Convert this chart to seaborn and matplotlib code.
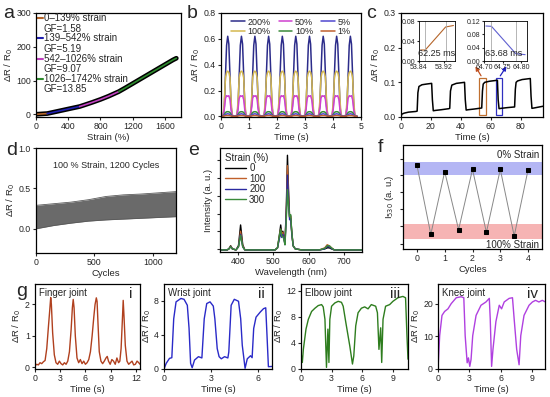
import matplotlib
matplotlib.use("Agg")
import matplotlib.pyplot as plt
import seaborn as sns
from matplotlib.patches import Rectangle

# ---------------- data ----------------
# (a) resistance vs strain
strain_a = [0, 50, 100, 139, 200, 300, 400, 542, 600, 700, 800, 900, 1026,
            1100, 1200, 1300, 1400, 1500, 1600, 1700, 1742]
resp_a = [0, 0.8, 1.6, 2.2, 5.3, 10.5, 15.7, 23, 27.5, 35.5, 44, 53.5, 67,
          77, 91, 105, 119, 133, 147, 161, 166]
seg_bounds = [(0, 139), (139, 542), (542, 1026), (1026, 1742)]
seg_names = ["0\u2013139% strain", "139\u2013542% strain",
             "542\u20131026% strain", "1026\u20131742% strain"]
seg_gf = ["GF=1.58", "GF=5.19", "GF=9.07", "GF=13.85"]

# (b) cyclic response at different strains (one cycle per series + peak times)
peak_times_b = [0.24, 0.73, 1.21, 1.70, 2.19, 2.67, 3.16, 3.65, 4.13, 4.62]
cycle_dt = [-0.24, -0.16, -0.12, -0.08, -0.04, 0.0, 0.04, 0.08, 0.12, 0.16, 0.24]
strain_labels_b = ["200%", "100%", "50%", "10%", "5%", "1%"]
cycle_200 = [0.0, 0.005, 0.08, 0.32, 0.55, 0.62, 0.56, 0.32, 0.08, 0.005, 0.0]
cycle_100 = [0.0, 0.01, 0.12, 0.30, 0.34, 0.35, 0.34, 0.30, 0.12, 0.01, 0.0]
cycle_50 = [0.0, 0.01, 0.06, 0.14, 0.16, 0.155, 0.16, 0.13, 0.05, 0.01, 0.0]
cycle_10 = [0.0, 0.003, 0.015, 0.03, 0.035, 0.036, 0.035, 0.03, 0.015, 0.003, 0.0]
cycle_5 = [0.0, 0.002, 0.008, 0.015, 0.018, 0.02, 0.018, 0.015, 0.008, 0.002, 0.0]
cycle_1 = [0.0, 0.001, 0.003, 0.005, 0.006, 0.006, 0.006, 0.005, 0.003, 0.001, 0.0]

# (c) step response
t_c = [0, 0.5, 2, 5, 10, 10.8, 11.3, 12, 14, 17, 20.5, 21.0, 21.6, 23, 27,
       32, 32.6, 33.1, 34, 37, 42.5, 43.0, 43.6, 45, 49, 54, 54.5, 55, 56, 59,
       64.5, 65.0, 65.6, 67, 71, 76, 76.5, 77, 78, 81, 86.5, 87.0, 87.6, 89, 95]
r_c = [0, 0.008, 0.011, 0.014, 0.016, 0.017, 0.07, 0.088, 0.093, 0.095,
       0.097, 0.05, 0.018, 0.019, 0.021, 0.024, 0.025, 0.075, 0.092, 0.097,
       0.1, 0.05, 0.02, 0.021, 0.023, 0.026, 0.075, 0.095, 0.1, 0.103,
       0.106, 0.05, 0.024, 0.025, 0.027, 0.029, 0.08, 0.1, 0.104, 0.108,
       0.111, 0.06, 0.025, 0.026, 0.031]
t_rise = [53.845, 53.86, 53.925, 53.95]
r_rise = [0.022, 0.022, 0.068, 0.071]
t_fall = [64.705, 64.72, 64.785, 64.81]
r_fall = [0.105, 0.104, 0.022, 0.019]

# (d) 1200-cycle envelope
cyc_d = [0, 150, 300, 450, 600, 750, 900, 1050, 1200]
low_d = [0.0, 0.04, 0.07, 0.095, 0.11, 0.12, 0.13, 0.14, 0.15]
high_d = [0.29, 0.31, 0.33, 0.36, 0.40, 0.42, 0.43, 0.445, 0.46]

# (e) emission spectra
wl = [350, 370, 375, 380, 385, 395, 402, 408, 414, 420, 480, 505, 512, 518,
      521, 524, 527, 530, 533, 537, 540, 543, 546, 549, 552, 556, 562, 580,
      630, 645, 652, 658, 664, 672, 690, 750]
spec_0 = [0.02, 0.02, 0.03, 0.06, 0.03, 0.02, 0.06, 0.26, 0.07, 0.02,
          0.02, 0.02, 0.04, 0.18, 0.26, 0.17, 0.2, 0.15, 0.08, 0.45,
          0.93, 0.6, 0.34, 0.35, 0.2, 0.06, 0.03, 0.02, 0.02, 0.03,
          0.04, 0.04, 0.03, 0.02, 0.02, 0.02]
spec_100 = [0.02, 0.02, 0.03, 0.055, 0.03, 0.02, 0.05, 0.2, 0.06, 0.02,
            0.02, 0.02, 0.04, 0.16, 0.22, 0.15, 0.19, 0.14, 0.08, 0.42,
            0.83, 0.55, 0.33, 0.34, 0.19, 0.06, 0.03, 0.02, 0.02, 0.04,
            0.07, 0.06, 0.04, 0.02, 0.02, 0.02]
spec_200 = [0.02, 0.02, 0.03, 0.05, 0.03, 0.02, 0.05, 0.17, 0.05, 0.02,
            0.02, 0.02, 0.04, 0.14, 0.18, 0.14, 0.17, 0.13, 0.07, 0.38,
            0.74, 0.5, 0.31, 0.32, 0.18, 0.06, 0.03, 0.02, 0.02, 0.03,
            0.055, 0.05, 0.035, 0.02, 0.02, 0.02]
spec_300 = [0.02, 0.02, 0.03, 0.05, 0.03, 0.02, 0.05, 0.16, 0.05, 0.02,
            0.02, 0.02, 0.04, 0.17, 0.22, 0.15, 0.15, 0.12, 0.07, 0.33,
            0.6, 0.45, 0.34, 0.36, 0.2, 0.06, 0.03, 0.02, 0.02, 0.035,
            0.06, 0.06, 0.04, 0.02, 0.02, 0.02]
spec_labels = ["0", "100", "200", "300"]

# (f) I530 over cycles
cyc_f = [0, 0.5, 1, 1.5, 2, 2.5, 3, 3.5, 4]
int_f = [0.808, 0.141, 0.744, 0.186, 0.766, 0.160, 0.766, 0.125, 0.763]

# (g) joint motion
fin_t = [0.0, 0.2, 0.4, 0.6, 0.8, 1.0, 1.2, 1.4, 1.6, 1.75, 1.87, 1.95, 2.1,
         2.3, 2.5, 2.7, 2.9, 3.1, 3.3, 3.5, 3.7, 3.9, 4.1, 4.3, 4.45, 4.55,
         4.65, 4.8, 5.0, 5.2, 5.4, 5.6, 5.8, 6.0, 6.2, 6.4, 6.6, 6.8, 7.0,
         7.15, 7.3, 7.39, 7.5, 7.65, 7.85, 8.05, 8.25, 8.45, 8.6, 8.75, 8.95,
         9.15, 9.35, 9.55, 9.75, 9.95, 10.1, 10.25, 10.4, 10.5, 10.6, 10.75,
         10.95, 11.15, 11.35, 11.55, 11.75, 11.95, 12.15, 12.35, 12.5]
fin_r = [0.05, 0.1, 0.08, 0.15, 0.12, 0.18, 0.22, 0.6, 1.3, 1.8, 2.22, 2.0,
         1.1, 0.4, 0.15, 0.1, 0.2, 0.12, 0.08, 0.15, 0.1, 0.2, 0.5, 1.2, 1.9,
         2.16, 1.9, 1.0, 0.3, 0.15, 0.25, 0.12, 0.2, 0.1, 0.15, 0.25, 0.5,
         1.0, 1.6, 2.0, 2.21, 2.1, 1.4, 0.5, 0.2, 0.12, 0.2, 0.3, 0.35, 0.2,
         0.1, 0.25, 0.2, 0.1, 0.3, 0.15, 0.2, 0.6, 1.5, 2.13, 1.6, 0.7, 0.2,
         0.1, 0.15, 0.2, 0.08, 0.1, 0.2, 0.15, 0.1]
wr_t = [0, 0.14, 0.35, 0.5, 0.62, 0.77, 1.08, 1.28, 1.49, 1.6, 1.7, 1.8, 1.95,
        2.2, 2.42, 2.57, 2.73, 2.94, 3.15, 3.25, 3.4, 3.52, 3.66, 3.87, 4.08,
        4.14, 4.29, 4.49, 4.76, 4.9, 5.0, 5.18, 5.32, 5.53, 5.63, 5.73, 5.88,
        6.15, 6.36, 6.5, 6.58, 6.67, 6.9]
wr_r = [0, 0.66, 1.25, 1.33, 5.9, 7.9, 8.3, 8.2, 7.5, 4.8, 0.66, 0.15, 1.05,
        1.45, 1.3, 5.9, 7.7, 7.9, 7.4, 5.9, 2.4, 1.45, 1.2, 1.45, 1.3, 2.0,
        7.5, 8.2, 7.97, 5.9, 2.8, 0.08, 1.2, 1.56, 1.33, 4.77, 6.1, 6.7, 7.1,
        7.2, 4.0, 0.27, 0.3]
el_t = [0, 0.13, 0.23, 0.49, 0.72, 1.04, 1.37, 1.69, 2.02, 2.18, 2.35, 2.5,
        2.64, 2.74, 2.83, 3.0, 3.32, 3.65, 3.97, 4.14, 4.4, 4.79, 5.05, 5.18,
        5.37, 5.6, 5.93, 6.25, 6.58, 6.9, 7.33, 7.5, 7.65, 7.82, 7.92, 8.05,
        8.3, 8.7, 9.02, 9.51, 10.0, 10.26, 10.4, 10.5]
el_r = [2.5, 1.0, 3.0, 6.1, 7.6, 8.8, 9.3, 9.7, 9.85, 9.5, 7.6, 0.25, 6.1,
        1.0, 7.6, 9.6, 10.1, 10.35, 10.2, 9.6, 7.1, 3.5, 0.76, 2.0, 6.6, 8.6,
        9.3, 9.5, 9.2, 9.85, 9.6, 8.6, 3.0, 6.3, 1.0, 7.6, 9.6, 9.85, 10.35,
        10.9, 11.1, 10.9, 5.0, 1.5]
kn_t = [0, 0.16, 0.38, 0.63, 0.95, 1.26, 1.74, 2.2, 2.46, 2.59, 2.78, 2.9,
        3.03, 3.15, 3.31, 3.63, 4.1, 4.57, 4.89, 4.98, 5.11, 5.24, 5.52, 5.84,
        6.06, 6.31, 6.78, 7.1, 7.26, 7.5, 7.73, 7.89, 8.2, 8.68, 9.0, 9.3,
        9.62, 9.94, 10.25]
kn_r = [0, 10.2, 16.4, 17.6, 18.4, 20.0, 21.8, 22.1, 21.8, 10.2, 1.9, 3.4,
        0.8, 2.9, 10.2, 16.4, 19.5, 20.5, 21.6, 15.3, 0.8, 6.0, 14.5, 19.5,
        18.4, 20.5, 21.6, 21.8, 15.3, 6.0, 1.3, 10.2, 16.4, 19.5, 20.5, 21.0,
        20.5, 21.0, 20.5]

# ---------------- style ----------------
sns.set_theme(style="ticks")
plt.rcParams["font.family"] = ["Liberation Sans", "DejaVu Sans"]
plt.rcParams.update({
    "axes.linewidth": 0.9, "axes.edgecolor": "black",
    "xtick.major.size": 2.5, "ytick.major.size": 2.5,
    "xtick.major.width": 0.8, "ytick.major.width": 0.8,
    "xtick.labelsize": 6.3, "ytick.labelsize": 6.3, "axes.labelsize": 6.8,
    "xtick.major.pad": 1.2, "ytick.major.pad": 1.2, "axes.labelpad": 1.0,
})

W, H = 550, 397
fig = plt.figure(figsize=(W / 100, H / 100), dpi=100)


def box(x0, y0, x1, y1):
    return fig.add_axes([x0 / W, 1 - y1 / H, (x1 - x0) / W, (y1 - y0) / H])


def letter(s, x, y):
    fig.text(x / W, 1 - y / H, s, fontsize=14, ha="center", va="center")


dr = "\u0394R / R$_0$"

# ---- (a)
ax = box(36, 13, 181, 117)
sns.lineplot(x=strain_a, y=resp_a, ax=ax, color="black", lw=3.4, sort=False, estimator=None)
a_cols = ["#b5652a", "#2020b0", "#c040c0", "#2e8b2e"]
for (lo, hi), col in zip(seg_bounds, a_cols):
    xs = [s for s in strain_a if lo <= s <= hi]
    ys = [r for s, r in zip(strain_a, resp_a) if lo <= s <= hi]
    sns.lineplot(x=xs, y=ys, ax=ax, color=col, lw=1.2, sort=False, estimator=None)
for i, col in enumerate(a_cols):
    y0 = 0.95 - i * 0.195
    ax.plot([0.01, 0.05], [y0, y0], color=col, lw=1.5, transform=ax.transAxes)
    ax.text(0.055, y0, seg_names[i], fontsize=7, va="center", transform=ax.transAxes)
    ax.text(0.055, y0 - 0.1, seg_gf[i], fontsize=7, va="center", transform=ax.transAxes)
ax.set_xlim(0, 1800)
ax.set_ylim(-8, 300)
ax.set_xticks([0, 400, 800, 1200, 1600])
ax.set_yticks([0, 100, 200, 300])
ax.set_xlabel("Strain (%)")
ax.set_ylabel(dr)
letter("a", 9, 14)

# ---- (b)
ax = box(221, 13, 361, 117)
b_cycles = [cycle_200, cycle_100, cycle_50, cycle_10, cycle_5, cycle_1]
b_cols = ["#2c2c8a", "#d4b850", "#d040d0", "#3a8a3a", "#5048d0", "#c06030"]
for k in range(6):
    ts = [p + d for p in peak_times_b for d in cycle_dt]
    vs = [v for p in peak_times_b for v in b_cycles[k]]
    sns.lineplot(x=ts, y=vs, ax=ax, color=b_cols[k], lw=1.1, sort=False,
                 estimator=None, label=strain_labels_b[k])
ax.legend(ncol=3, loc="upper left", frameon=False, fontsize=6.5, handlelength=1.5,
          labelspacing=0.05, columnspacing=0.9, handletextpad=0.3,
          borderaxespad=0.1, bbox_to_anchor=(0.04, 1.0))
ax.set_xlim(0, 5)
ax.set_ylim(-0.005, 0.8)
ax.set_yticks([0.0, 0.2, 0.4, 0.6, 0.8])
ax.set_yticklabels(["0.0", "0.2", "0.4", "0.6", "0.8"])
ax.set_xlabel("Time (s)")
ax.set_ylabel(dr)
letter("b", 192, 13)

# ---- (c)
ax = box(401, 13, 543, 117)
sns.lineplot(x=t_c, y=r_c, ax=ax, color="black", lw=1.1, sort=False, estimator=None)
ax.add_patch(Rectangle((52.3, 0.005), 4.5, 0.107, fill=False, ec="#c07030", lw=0.9))
ax.add_patch(Rectangle((63.6, 0.005), 3.7, 0.107, fill=False, ec="#3030c0", lw=0.9))
ax.set_xlim(0, 95)
ax.set_ylim(0, 0.3)
ax.set_xticks([0, 20, 40, 60, 80])
ax.set_yticks([0.0, 0.1, 0.2, 0.3])
ax.set_yticklabels(["0.0", "0.1", "0.2", "0.3"])
ax.set_xlabel("Time (s)")
ax.set_ylabel(dr)
ax.annotate("", xy=(474 / W, 1 - 64 / H), xycoords="figure fraction",
            xytext=(54.5, 0.112), textcoords="data",
            arrowprops=dict(arrowstyle="-|>", color="#c05020", lw=0.9, mutation_scale=6))
ax.annotate("", xy=(508 / W, 1 - 64 / H), xycoords="figure fraction",
            xytext=(65.4, 0.112), textcoords="data",
            arrowprops=dict(arrowstyle="-|>", color="#2020c0", lw=0.9, mutation_scale=6))
letter("c", 371, 14)

ins = box(419, 21, 455, 61)
sns.lineplot(x=t_rise, y=r_rise, ax=ins, color="#b5652a", lw=0.8, sort=False, estimator=None)
for xv in [53.86, 53.925]:
    ins.axvline(xv, color="#aaaaaa", lw=0.6)
ins.set_xlim(53.84, 53.955)
ins.set_ylim(0, 0.08)
ins.set_xticks([53.84, 53.92])
ins.set_xticklabels(["53.84", "53.92"])
ins.set_yticks([0.0, 0.04, 0.08])
ins.set_yticklabels(["0.00", "0.04", "0.08"])
ins.tick_params(labelsize=5, length=1.5, pad=1)
ins.text(0.5, 0.08, "62.25 ms", fontsize=6.5, ha="center", va="bottom", transform=ins.transAxes)
for s in ins.spines.values():
    s.set_linewidth(0.6)

ins = box(484, 21, 527, 61)
sns.lineplot(x=t_fall, y=r_fall, ax=ins, color="#6060d0", lw=0.8, sort=False, estimator=None)
for xv in [64.72, 64.785]:
    ins.axvline(xv, color="#aaaaaa", lw=0.6)
ins.set_xlim(64.70, 64.815)
ins.set_ylim(0, 0.12)
ins.set_xticks([64.70, 64.75, 64.80])
ins.set_xticklabels(["64.70", "64.75", "64.80"])
ins.set_yticks([0.0, 0.04, 0.08, 0.12])
ins.set_yticklabels(["0.00", "0.04", "0.08", "0.12"])
ins.tick_params(labelsize=5, length=1.5, pad=1)
ins.text(0.45, 0.08, "63.68 ms", fontsize=6.5, ha="center", va="bottom", transform=ins.transAxes)
for s in ins.spines.values():
    s.set_linewidth(0.6)

# ---- (d)
ax = box(36, 148, 176, 253)
ax.fill_between(cyc_d, low_d, high_d, color="#6a6a6a", lw=0)
sns.lineplot(x=cyc_d, y=low_d, ax=ax, color="#5a5a5a", lw=0.6, sort=False, estimator=None)
sns.lineplot(x=cyc_d, y=high_d, ax=ax, color="#5a5a5a", lw=0.6, sort=False, estimator=None)
ax.text(0.5, 0.83, "100 % Strain, 1200 Cycles", fontsize=6.5, ha="center",
        va="center", transform=ax.transAxes)
ax.set_xlim(0, 1200)
ax.set_ylim(-0.3, 1.0)
ax.set_xticks([0, 500, 1000])
ax.set_yticks([0.0, 0.5, 1.0])
ax.set_yticklabels(["0.0", "0.5", "1.0"])
ax.set_xlabel("Cycles")
ax.set_ylabel(dr)
letter("d", 12, 150)

# ---- (e)
ax = box(220, 148, 362, 252)
e_specs = [spec_0, spec_100, spec_200, spec_300]
e_cols = ["black", "#c0602a", "#2a2aa0", "#3a8a3a"]
for sp, col, lab in zip(e_specs, e_cols, spec_labels):
    sns.lineplot(x=wl, y=sp, ax=ax, color=col, lw=1.0, sort=False,
                 estimator=None, label=lab)
leg = ax.legend(loc="upper left", frameon=False, fontsize=7, title="Strain (%)",
                title_fontsize=7, handlelength=2.2, labelspacing=0.05,
                handletextpad=0.3, borderaxespad=0.1, bbox_to_anchor=(0.0, 1.0))
leg._legend_box.align = "left"
ax.set_xlim(350, 750)
ax.set_ylim(0, 1.0)
ax.set_xticks([400, 500, 600, 700])
ax.set_yticks([0.03, 0.2, 0.37, 0.54, 0.71, 0.88])
ax.set_yticklabels([])
ax.set_xlabel("Wavelength (nm)")
ax.set_ylabel("Intensity (a. u.)")
letter("e", 194, 150)

# ---- (f)
ax = box(403, 145, 542, 249)
ax.axhspan(0.712, 0.84, color="#b4b6f4", lw=0)
ax.axhspan(0.096, 0.237, color="#f6b4b4", lw=0)
sns.lineplot(x=cyc_f, y=int_f, ax=ax, color="#888888", lw=0.7, sort=False,
             estimator=None, marker="s", markersize=2.2, markerfacecolor="black",
             markeredgecolor="black")
ax.text(0.98, 0.9, "0% Strain", fontsize=7, ha="right", va="center", transform=ax.transAxes)
ax.text(0.98, 0.04, "100% Strain", fontsize=7, ha="right", va="center", transform=ax.transAxes)
ax.set_xlim(-0.5, 4.5)
ax.set_ylim(0, 1.0)
ax.set_xticks([0, 1, 2, 3, 4])
ax.set_yticks([0.05, 0.22, 0.38, 0.55, 0.71, 0.87])
ax.set_yticklabels([])
ax.set_xlabel("Cycles")
ax.set_ylabel("I$_{530}$ (a. u.)")
letter("f", 380, 147)

# ---- (g)
g_specs = [
    (35, 140, fin_t, fin_r, "#b0401e", "Finger joint", "i", (0, 12.5), (-0.05, 2.65),
     [0, 3, 6, 9, 12], [0, 1, 2]),
    (164, 272, wr_t, wr_r, "#2a2ac8", "Wrist joint", "ii", (0, 6.9), (0, 10),
     [0, 3, 6], [0, 4, 8]),
    (301, 408, el_t, el_r, "#2e7d1e", "Elbow joint", "iii", (0, 10.5), (0, 13),
     [0, 3, 6, 9], [0, 4, 8, 12]),
    (438, 545, kn_t, kn_r, "#b040e0", "Knee joint", "iv", (0, 10.2), (0, 26),
     [0, 3, 6, 9], [0, 10, 20]),
]
for x0, x1, ts, rs, col, name, num, xl, yl, xt, yt in g_specs:
    ax = box(x0, 284, x1, 369)
    sns.lineplot(x=ts, y=rs, ax=ax, color=col, lw=1.0, sort=False, estimator=None)
    ax.text(0.04, 0.95, name, fontsize=7, ha="left", va="top", transform=ax.transAxes)
    ax.text(0.93, 0.96, num, fontsize=11, ha="right", va="top", transform=ax.transAxes)
    ax.set_xlim(*xl)
    ax.set_ylim(*yl)
    ax.set_xticks(xt)
    ax.set_yticks(yt)
    ax.set_xlabel("Time (s)")
    ax.set_ylabel(dr)
letter("g", 22, 291)

fig.savefig("out.png", dpi=100)
